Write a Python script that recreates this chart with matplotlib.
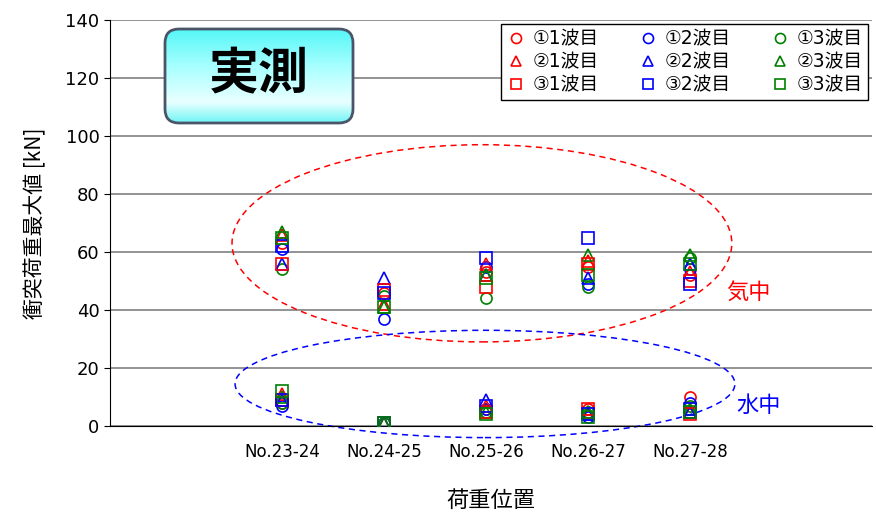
import numpy as np
import matplotlib
matplotlib.use("Agg")
import matplotlib.pyplot as plt
from matplotlib.patches import Ellipse, FancyBboxPatch
from matplotlib.colors import LinearSegmentedColormap

plt.rcParams['font.family'] = ['Noto Sans CJK JP', 'DejaVu Sans']

positions = ["No.23-24", "No.24-25", "No.25-26", "No.26-27", "No.27-28"]

# air (気中) peak loads per series
air_c1 = [63, 46, 53, 55, 52]
air_c2 = [61, 37, 55, 49, 54]
air_c3 = [54, 45, 44, 48, 58]
air_t1 = [66, 42, 56, 57, 53]
air_t2 = [56, 51, 52, 51, 56]
air_t3 = [67, 41, 52, 59, 59]
air_s1 = [56, 47, 48, 56, 50]
air_s2 = [62, 46, 58, 65, 49]
air_s3 = [65, 41, 51, 52, 56]

# water (水中) peak loads per series
wat_c1 = [8, 1, 6, 6, 10]
wat_c2 = [7, 1, 6, 3, 8]
wat_c3 = [8, 1, 5, 5, 7]
wat_t1 = [11, 1, 7, 5, 5]
wat_t2 = [9, 1, 9, 4, 5]
wat_t3 = [10, 1, 5, 5, 6]
wat_s1 = [9, 1, 5, 6, 4]
wat_s2 = [9, 1, 7, 4, 6]
wat_s3 = [12, 1, 4, 3, 5]

series = [
    ("①1波目", 'o', 'red', air_c1, wat_c1),
    ("①2波目", 'o', 'blue', air_c2, wat_c2),
    ("①3波目", 'o', 'green', air_c3, wat_c3),
    ("②1波目", '^', 'red', air_t1, wat_t1),
    ("②2波目", '^', 'blue', air_t2, wat_t2),
    ("②3波目", '^', 'green', air_t3, wat_t3),
    ("③1波目", 's', 'red', air_s1, wat_s1),
    ("③2波目", 's', 'blue', air_s2, wat_s2),
    ("③3波目", 's', 'green', air_s3, wat_s3),
]

fig = plt.figure(figsize=(8.76, 5.18), dpi=100)
ax = fig.add_axes([110/876, 92/518, 762/876, 406/518])

x = np.arange(1, len(positions) + 1)
handles = {}
for name, m, c, a, w in series:
    h, = ax.plot(x, a, linestyle='none', marker=m, markersize=8,
                 markerfacecolor='none', markeredgecolor=c, markeredgewidth=1.2,
                 label=name, zorder=3)
    ax.plot(x, w, linestyle='none', marker=m, markersize=8,
            markerfacecolor='none', markeredgecolor=c, markeredgewidth=1.2, zorder=3)
    handles[name] = h

ax.set_xlim(1 - 172/102, 1 + 590/102)
ax.set_ylim(0, 140)
ax.set_yticks(range(0, 141, 20))
ax.set_xticks(x)
ax.set_xticklabels(positions)
ax.yaxis.grid(True, color='#808080', linewidth=1.2)
ax.set_axisbelow(True)
for s in ['top', 'right']:
    ax.spines[s].set_visible(False)
ax.spines['left'].set_color('black')
ax.spines['bottom'].set_color('black')
ax.tick_params(axis='y', labelsize=13, length=4, direction='out')
ax.tick_params(axis='x', labelsize=12, length=0, pad=12)
for t in ax.get_xticklabels() + ax.get_yticklabels():
    t.set_family(['DejaVu Sans', 'Noto Sans CJK JP'])
ax.set_ylabel("衝突荷重最大値 [kN]", fontsize=15, labelpad=14)
ax.set_xlabel("荷重位置", fontsize=16, labelpad=20)

# ellipses
ax.add_patch(Ellipse((2.96, 63), 4.9, 68, fill=False, edgecolor='red',
                     linestyle=(0, (4, 3)), linewidth=1.1, zorder=2))
ax.add_patch(Ellipse((2.99, 14.5), 4.9, 37, fill=False, edgecolor='blue',
                     linestyle=(0, (4, 3)), linewidth=1.1, zorder=2, clip_on=False))
ax.text(5.57, 46, "気中", color='red', fontsize=16, ha='center', va='center')
ax.text(5.67, 7, "水中", color='blue', fontsize=16, ha='center', va='center')

order = ["①1波目", "②1波目", "③1波目", "①2波目", "②2波目", "③2波目",
         "①3波目", "②3波目", "③3波目"]
leg = ax.legend([handles[k] for k in order], order, ncol=3, loc='upper right',
                bbox_to_anchor=(0.995, 0.99), borderaxespad=0,
                prop={'family': ['DejaVu Sans', 'Noto Sans CJK JP'], 'size': 13.5},
                fancybox=False, framealpha=1, edgecolor='black',
                handletextpad=0.4, columnspacing=2.1, labelspacing=0.2,
                handlelength=1.0, borderpad=0.3, markerscale=0.9)
leg.get_frame().set_linewidth(1.0)

# title box with gradient
tax = fig.add_axes([163/876, (518-125)/518, 192/876, 98/518])
tax.set_xlim(0, 192)
tax.set_ylim(0, 98)
tax.axis('off')
box = FancyBboxPatch((2, 2), 188, 94, boxstyle="round,pad=0,rounding_size=14",
                     facecolor='none', edgecolor='#4a5568', linewidth=2, zorder=3)
tax.add_patch(box)
cmap = LinearSegmentedColormap.from_list('g', [(0, '#55f7f7'), (0.4, '#a8ffff'),
                                               (0.78, '#eaffff'), (1, '#70f5f5')])
grad = np.linspace(0, 1, 200).reshape(-1, 1)
im = tax.imshow(grad, extent=(2, 190, 2, 96), origin='upper', aspect='auto',
                cmap=cmap, zorder=1)
im.set_clip_path(box)
tax.text(96, 50, "実測", fontsize=36, fontweight='bold', ha='center', va='center', zorder=4)

fig.savefig("out.png", dpi=100)
